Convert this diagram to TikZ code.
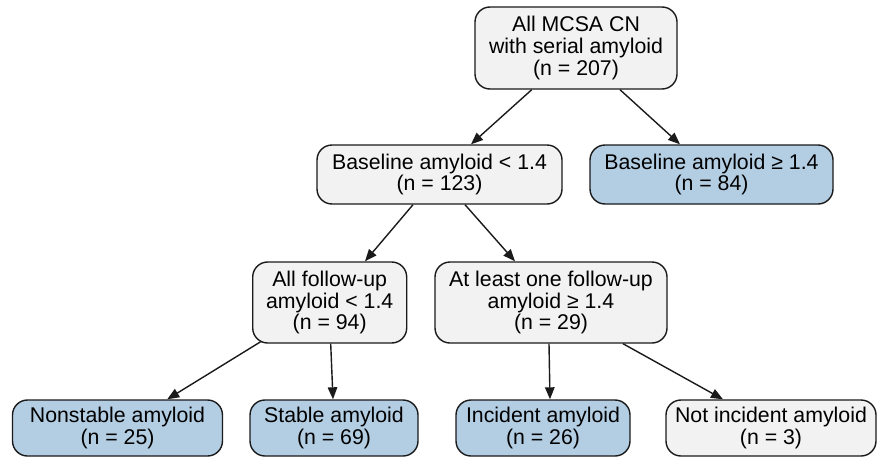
\documentclass[tikz,border=0pt]{standalone}
\usepackage{fontspec}
\setmainfont{Liberation Sans}
\usetikzlibrary{arrows.meta}
\definecolor{boxgray}{HTML}{F2F2F2}
\definecolor{boxblue}{HTML}{B3CDE3}
\definecolor{edgecol}{HTML}{1A1A1A}
\tikzset{
  box/.style={draw=edgecol, line width=1.4pt, rounded corners=15pt, align=center,
    inner sep=0pt, font=\fontsize{21.3}{21.8}\selectfont, text=black},
  graybox/.style={box, fill=boxgray},
  bluebox/.style={box, fill=boxblue},
  conn/.style={draw=edgecol, line width=1.4pt, -{Triangle[length=12pt,width=9.5pt]}}
}
\begin{document}
\begin{tikzpicture}[x=1pt,y=-1pt]
\useasboundingbox (0,0) rectangle (878,458);
\node[graybox, minimum width=202pt, minimum height=82pt] (top) at (576,48) {All MCSA CN\\with serial amyloid\\(n = 207)};
\node[graybox, minimum width=245pt, minimum height=59pt] (b1) at (439.5,174.5) {Baseline amyloid < 1.4\\(n = 123)};
\node[bluebox, minimum width=243pt, minimum height=59pt] (b2) at (711.5,174.5) {Baseline amyloid ≥ 1.4\\(n = 84)};
\node[graybox, minimum width=154pt, minimum height=81pt] (f1) at (329.7,302.5) {All follow-up\\amyloid < 1.4\\(n = 94)};
\node[graybox, minimum width=232pt, minimum height=81pt] (f2) at (551,302.5) {At least one follow-up\\amyloid ≥ 1.4\\(n = 29)};
\node[bluebox, minimum width=210pt, minimum height=56pt] (n1) at (117.5,428) {Nonstable amyloid\\(n = 25)};
\node[bluebox, minimum width=168pt, minimum height=56pt] (n2) at (334,428) {Stable amyloid\\(n = 69)};
\node[bluebox, minimum width=174pt, minimum height=56pt] (n3) at (543,428) {Incident amyloid\\(n = 26)};
\node[graybox, minimum width=210pt, minimum height=56pt] (n4) at (771,428) {Not incident amyloid\\(n = 3)};

\draw[conn] ([xshift=-44.3pt]top.south) -- ([xshift=31.5pt]b1.north);
\draw[conn] ([xshift=44pt]top.south) -- ([xshift=-31.5pt]b2.north);
\draw[conn] ([xshift=-26.5pt]b1.south) -- ([xshift=35.3pt]f1.north);
\draw[conn] ([xshift=25.5pt]b1.south) -- ([xshift=-36pt]f2.north);
\draw[conn] ([xshift=-69pt,yshift=2pt]f1.south) -- ([xshift=49.7pt]n1.north);
\draw[conn] ([xshift=1pt]f1.south) -- ([xshift=-1pt]n2.north);
\draw[conn] ([xshift=-2pt]f2.south) -- ([xshift=7pt]n3.north);
\draw[conn] ([xshift=72pt]f2.south) -- ([xshift=-48pt]n4.north);
\end{tikzpicture}
\end{document}
